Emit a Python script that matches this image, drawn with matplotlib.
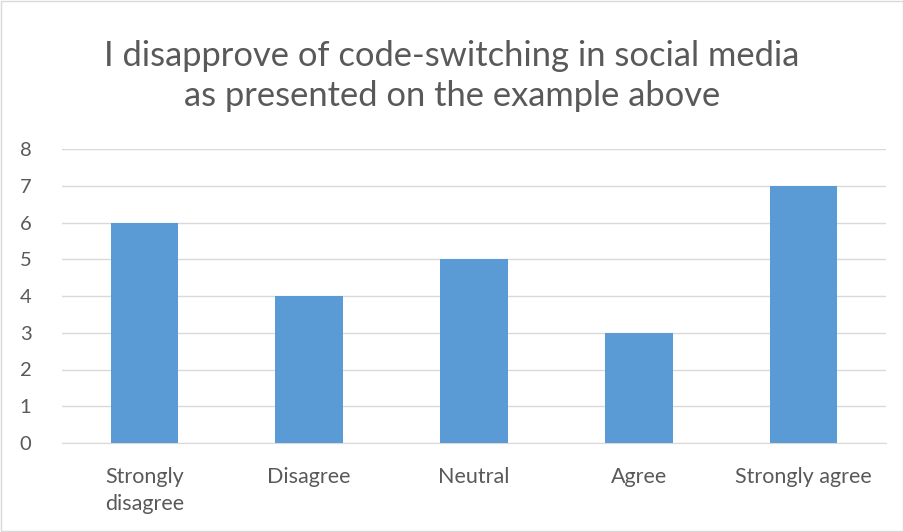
import matplotlib
matplotlib.use("Agg")
import matplotlib.pyplot as plt
from matplotlib.patches import Rectangle

categories = ["Strongly\ndisagree", "Disagree", "Neutral", "Agree", "Strongly agree"]
values = [6, 4, 5, 3, 7]
yticks = [0, 1, 2, 3, 4, 5, 6, 7, 8]
title = "I disapprove of code-switching in social media\nas presented on the example above"

plt.rcParams['font.family'] = ['Lato', 'DejaVu Sans']
txt = "#595959"

fig = plt.figure(figsize=(9.04, 5.32), dpi=100)
ax = fig.add_axes([62/904, 89/532, 824/904, 294/532])
x = list(range(len(categories)))
ax.bar(x, values, width=0.41, color="#5B9BD5", zorder=3)
ax.set_xlim(-0.5, 4.5)
ax.set_ylim(0, 8)
ax.set_yticks(yticks)
ax.set_yticklabels([str(v) for v in yticks], color=txt, fontsize=14.5)
ax.set_xticks(x)
ax.set_xticklabels(categories, color=txt, fontsize=15.5, linespacing=1.45)
ax.grid(axis='y', color="#D9D9D9", linewidth=1, zorder=0)
for s in ['top', 'right', 'left']:
    ax.spines[s].set_visible(False)
ax.spines['bottom'].set_color("#D9D9D9")
ax.tick_params(axis='both', length=0)
ax.tick_params(axis='x', pad=17)
ax.tick_params(axis='y', pad=22)
fig.text(0.5, 1 - 76/532, title, ha='center', va='center', fontsize=24.8, color=txt, linespacing=1.32)
fig.patches.append(Rectangle((0.001, 0.001), 0.998, 0.998, transform=fig.transFigure,
                             fill=False, edgecolor="#D9D9D9", linewidth=1))
fig.savefig("out.png", dpi=100)
